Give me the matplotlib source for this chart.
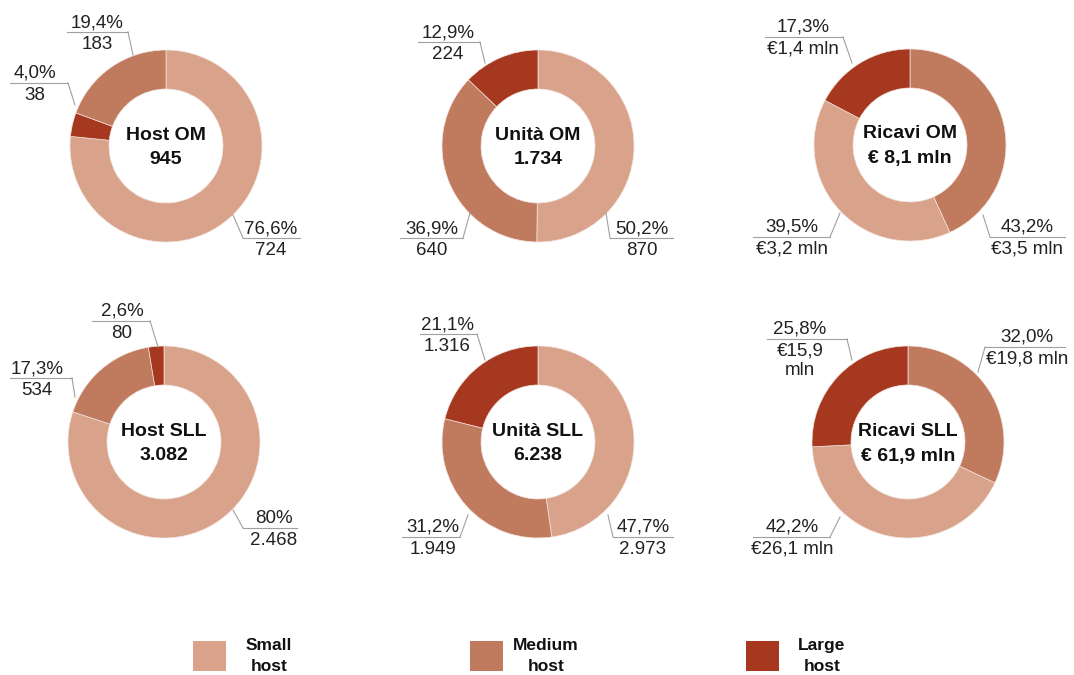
import matplotlib
matplotlib.use("Agg")
import matplotlib.pyplot as plt
from matplotlib.patches import Rectangle

plt.rcParams["font.family"] = ["Liberation Sans", "DejaVu Sans"]

# --- data -------------------------------------------------------------------
SEGMENTS = ["Small\nhost", "Medium\nhost", "Large\nhost"]
COLORS = ["#d8a28b", "#c07a5e", "#a5381f"]

TITLES = ["Host OM", "Unità OM", "Ricavi OM", "Host SLL", "Unità SLL", "Ricavi SLL"]
TOTALS = ["945", "1.734", "€ 8,1 mln", "3.082", "6.238", "€ 61,9 mln"]

# shares in % for small / medium / large host
SHARE_HOST_OM = [76.6, 19.4, 4.0]
SHARE_UNITA_OM = [50.2, 36.9, 12.9]
SHARE_RICAVI_OM = [39.5, 43.2, 17.3]
SHARE_HOST_SLL = [80.0, 17.3, 2.6]
SHARE_UNITA_SLL = [47.7, 31.2, 21.1]
SHARE_RICAVI_SLL = [42.2, 32.0, 25.8]
SHARES = [SHARE_HOST_OM, SHARE_UNITA_OM, SHARE_RICAVI_OM,
          SHARE_HOST_SLL, SHARE_UNITA_SLL, SHARE_RICAVI_SLL]

PCT_LABELS = [
    ["76,6%", "19,4%", "4,0%"],
    ["50,2%", "36,9%", "12,9%"],
    ["39,5%", "43,2%", "17,3%"],
    ["80%", "17,3%", "2,6%"],
    ["47,7%", "31,2%", "21,1%"],
    ["42,2%", "32,0%", "25,8%"],
]
VALUE_LABELS = [
    ["724", "183", "38"],
    ["870", "640", "224"],
    ["€3,2 mln", "€3,5 mln", "€1,4 mln"],
    ["2.468", "534", "80"],
    ["2.973", "1.949", "1.316"],
    ["€26,1 mln", "€19,8 mln", "€15,9\nmln"],
]

# clockwise slice order starting at 12 o'clock (indices into small/medium/large)
SLICE_ORDER = [[0, 2, 1], [0, 1, 2], [1, 0, 2], [0, 1, 2], [0, 1, 2], [1, 0, 2]]

# --- layout (pixels, y measured from the top) --------------------------------
W, H = 1074, 675
CENTERS = [(166, 146), (538, 146), (910, 145), (164, 442), (538, 442), (908, 442)]
R_OUT = 96
RING = 39

# per slice (small, medium, large): text centre x, rule y, rule x0, rule x1, leader tip
CALLOUTS = [
    [(271, 238, 243, 300, 233, 215), (97, 32, 67, 128, 133, 55), (35, 83, 10, 68, 75, 105)],
    [(642, 238, 610, 673, 606, 213), (432, 238, 400, 463, 470, 213), (448, 42, 418, 480, 485, 63)],
    [(792, 237, 753, 830, 840, 213), (1027, 237, 990, 1065, 983, 215), (803, 37, 765, 843, 852, 63)],
    [(274, 528, 243, 297, 233, 510), (37, 378, 10, 72, 75, 397), (122, 321, 92, 150, 158, 347)],
    [(643, 537, 613, 673, 608, 515), (433, 537, 402, 460, 468, 515), (447, 334, 420, 477, 485, 360)],
    [(792, 537, 753, 830, 840, 517), (1027, 347, 985, 1065, 978, 372), (800, 339, 767, 847, 852, 360)],
]

LEGEND_X = [193, 470, 746]
LEGEND_Y = 641

fig = plt.figure(figsize=(W / 100, H / 100), dpi=100)
ax = fig.add_axes([0, 0, 1, 1])

for i, (cx, cy) in enumerate(CENTERS):
    order = SLICE_ORDER[i]
    # y axis is inverted below, so counterclock in data space reads clockwise on screen
    ax.pie(
        [SHARES[i][k] for k in order],
        colors=[COLORS[k] for k in order],
        center=(cx, cy),
        radius=R_OUT,
        startangle=-90,
        counterclock=True,
        wedgeprops=dict(width=RING, edgecolor="#f3e3dc", linewidth=0.5),
    )
    ax.text(cx, cy - 11, TITLES[i], ha="center", va="center",
            fontsize=14, fontweight="bold", color="#111111")
    ax.text(cx, cy + 14, TOTALS[i], ha="center", va="center",
            fontsize=14, fontweight="bold", color="#111111")

    for k in range(3):
        tx, ly, x0, x1, px, py = CALLOUTS[i][k]
        ax.plot([x0, x1], [ly, ly], color="#a0a0a0", lw=0.8)
        start = x0 if abs(x0 - cx) < abs(x1 - cx) else x1
        ax.plot([start, px], [ly, py], color="#a0a0a0", lw=0.8)
        ax.text(tx, ly - 5, PCT_LABELS[i][k], ha="center", va="baseline",
                fontsize=13.5, color="#222222")
        ax.text(tx, ly + 4, VALUE_LABELS[i][k], ha="center", va="top",
                fontsize=13.5, color="#222222", linespacing=1.15)

for x, label, color in zip(LEGEND_X, SEGMENTS, COLORS):
    ax.add_patch(Rectangle((x, LEGEND_Y), 33, 30, facecolor=color, edgecolor="none"))
    ax.text(x + 76, LEGEND_Y + 15, label, ha="center", va="center",
            fontsize=12.5, fontweight="bold", color="#111111",
            multialignment="center", linespacing=1.5)

ax.set_xlim(0, W)
ax.set_ylim(H, 0)
ax.set_aspect("equal")
ax.axis("off")

fig.savefig("out.png", dpi=100, facecolor="white")
